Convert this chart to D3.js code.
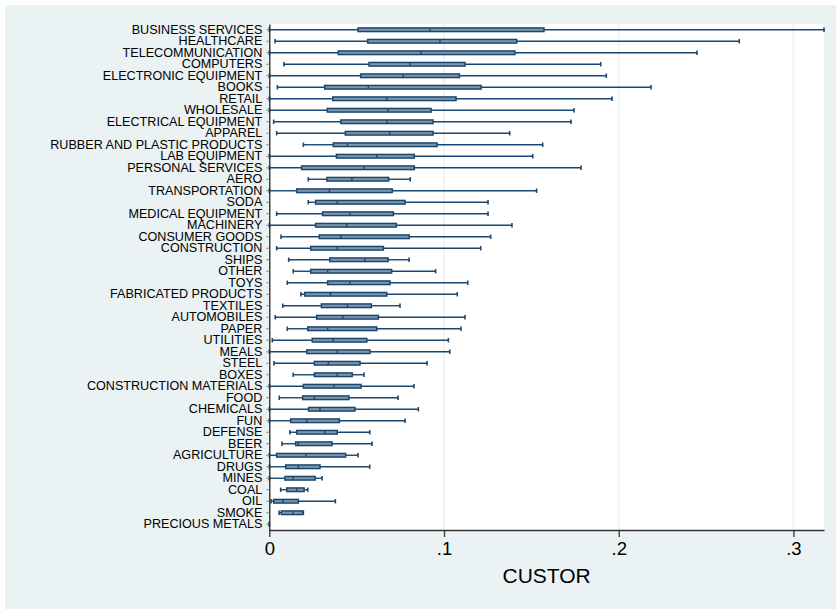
<!DOCTYPE html>
<html>
<head>
<meta charset="utf-8">
<script src="https://cdn.jsdelivr.net/npm/d3@7"></script>
<style>
  html, body { margin: 0; padding: 0; background: #ffffff; }
  svg { display: block; }
  text { font-family: "Liberation Sans", Arial, sans-serif; }
</style>
</head>
<body>
<svg id="chart" width="836" height="609"></svg>
<script>
// Industries, ordered top to bottom
const categories = [
  "BUSINESS SERVICES", "HEALTHCARE", "TELECOMMUNICATION", "COMPUTERS",
  "ELECTRONIC EQUIPMENT", "BOOKS", "RETAIL", "WHOLESALE",
  "ELECTRICAL EQUIPMENT", "APPAREL", "RUBBER AND PLASTIC PRODUCTS",
  "LAB EQUIPMENT", "PERSONAL SERVICES", "AERO", "TRANSPORTATION", "SODA",
  "MEDICAL EQUIPMENT", "MACHINERY", "CONSUMER GOODS", "CONSTRUCTION",
  "SHIPS", "OTHER", "TOYS", "FABRICATED PRODUCTS", "TEXTILES",
  "AUTOMOBILES", "PAPER", "UTILITIES", "MEALS", "STEEL", "BOXES",
  "CONSTRUCTION MATERIALS", "FOOD", "CHEMICALS", "FUN", "DEFENSE", "BEER",
  "AGRICULTURE", "DRUGS", "MINES", "COAL", "OIL", "SMOKE", "PRECIOUS METALS"
];

// Box-plot statistics of CUSTOR per industry
const lowerAdjacent = [
  0.0000, 0.0033, 0.0000, 0.0084, 0.0000, 0.0046, 0.0000, 0.0000,
  0.0025, 0.0042, 0.0195, 0.0000, 0.0000, 0.0223, 0.0000, 0.0223,
  0.0042, 0.0000, 0.0067, 0.0042, 0.0111, 0.0137, 0.0103, 0.0181,
  0.0077, 0.0034, 0.0103, 0.0017, 0.0000, 0.0027, 0.0137, 0.0000,
  0.0057, 0.0000, 0.0000, 0.0118, 0.0073, 0.0000, 0.0000, 0.0000,
  0.0065, 0.0010, 0.0056, 0.0000
];
const lowerQuartile = [
  0.0508, 0.0563, 0.0395, 0.0571, 0.0523, 0.0317, 0.0363, 0.0332,
  0.0410, 0.0435, 0.0366, 0.0384, 0.0185, 0.0330, 0.0157, 0.0265,
  0.0305, 0.0265, 0.0286, 0.0237, 0.0346, 0.0237, 0.0334, 0.0203,
  0.0298, 0.0271, 0.0220, 0.0246, 0.0214, 0.0258, 0.0258, 0.0195,
  0.0191, 0.0225, 0.0122, 0.0157, 0.0151, 0.0042, 0.0094, 0.0090,
  0.0100, 0.0025, 0.0069, 0.0000
];
const medians = [
  0.0920, 0.0977, 0.0868, 0.0805, 0.0767, 0.0567, 0.0672, 0.0678,
  0.0674, 0.0689, 0.0447, 0.0615, 0.0542, 0.0473, 0.0344, 0.0389,
  0.0462, 0.0443, 0.0410, 0.0389, 0.0546, 0.0334, 0.0462, 0.0351,
  0.0447, 0.0420, 0.0334, 0.0366, 0.0389, 0.0338, 0.0389, 0.0370,
  0.0258, 0.0290, 0.0214, 0.0317, 0.0166, 0.0210, 0.0166, 0.0137,
  0.0157, 0.0080, 0.0136, 0.0000
];
const upperQuartile = [
  0.1572, 0.1416, 0.1406, 0.1120, 0.1088, 0.1212, 0.1069, 0.0926,
  0.0937, 0.0937, 0.0960, 0.0830, 0.0830, 0.0683, 0.0704, 0.0777,
  0.0710, 0.0727, 0.0801, 0.0653, 0.0680, 0.0700, 0.0691, 0.0672,
  0.0584, 0.0624, 0.0615, 0.0558, 0.0576, 0.0519, 0.0475, 0.0525,
  0.0456, 0.0490, 0.0401, 0.0389, 0.0359, 0.0437, 0.0290, 0.0262,
  0.0199, 0.0166, 0.0191, 0.0000
];
const upperAdjacent = [
  0.3175, 0.2690, 0.2448, 0.1897, 0.1929, 0.2185, 0.1962, 0.1744,
  0.1727, 0.1376, 0.1565, 0.1508, 0.1784, 0.0807, 0.1530, 0.1252,
  0.1252, 0.1389, 0.1267, 0.1210, 0.0800, 0.0952, 0.1136, 0.1076,
  0.0748, 0.1120, 0.1097, 0.1025, 0.1033, 0.0903, 0.0542, 0.0828,
  0.0737, 0.0853, 0.0777, 0.0575, 0.0588, 0.0508, 0.0575, 0.0302,
  0.0220, 0.0378, 0.0195, 0.0000
];

// x-axis ticks
const tickValues = [0, 0.1, 0.2, 0.3];
const tickLabels = ["0", ".1", ".2", ".3"];
const axisTitle = "CUSTOR";

const rows = categories.map((name, i) => ({
  name,
  lo: lowerAdjacent[i],
  q1: lowerQuartile[i],
  med: medians[i],
  q3: upperQuartile[i],
  hi: upperAdjacent[i]
}));

const W = 836, H = 609;
const plot = { left: 269.3, right: 824, top: 24, bottom: 530 };

const NAVY = "#1a476f";
const BOX_FILL = "#7f96ad";
const REGION = "#eaf2f3";

const svg = d3.select("#chart");

// graph region and plot region
svg.append("rect").attr("x", 5).attr("y", 5).attr("width", W - 5).attr("height", H - 5)
  .attr("fill", REGION);
svg.append("rect").attr("x", plot.left).attr("y", plot.top)
  .attr("width", plot.right - plot.left).attr("height", plot.bottom - plot.top)
  .attr("fill", "#ffffff");

const x = d3.scaleLinear()
  .domain([0, d3.max(upperAdjacent)])
  .range([plot.left, plot.right]);

const y = d3.scaleBand()
  .domain(categories)
  .range([plot.top, plot.bottom])
  .paddingInner(0)
  .paddingOuter(0);

const cy = d => y(d.name) + y.bandwidth() / 2;

// vertical grid lines
svg.append("g").selectAll("line")
  .data(tickValues.filter(v => v > 0))
  .join("line")
  .attr("x1", d => x(d)).attr("x2", d => x(d))
  .attr("y1", plot.top).attr("y2", plot.bottom)
  .attr("stroke", REGION).attr("stroke-width", 1.5);

// boxes
const boxH = 3.6;
const capH = 4.4;
const g = svg.append("g");
const rowG = g.selectAll("g.row").data(rows).join("g").attr("class", "row");

rowG.append("line")
  .attr("x1", d => x(d.lo)).attr("x2", d => x(d.q1))
  .attr("y1", cy).attr("y2", cy)
  .attr("stroke", NAVY).attr("stroke-width", 1.4);
rowG.append("line")
  .attr("x1", d => x(d.q3)).attr("x2", d => x(d.hi))
  .attr("y1", cy).attr("y2", cy)
  .attr("stroke", NAVY).attr("stroke-width", 1.4);
rowG.append("line")
  .attr("x1", d => x(d.lo)).attr("x2", d => x(d.lo))
  .attr("y1", d => cy(d) - capH / 2).attr("y2", d => cy(d) + capH / 2)
  .attr("stroke", NAVY).attr("stroke-width", 1.6);
rowG.append("line")
  .attr("x1", d => x(d.hi)).attr("x2", d => x(d.hi))
  .attr("y1", d => cy(d) - capH / 2).attr("y2", d => cy(d) + capH / 2)
  .attr("stroke", NAVY).attr("stroke-width", 1.6);
rowG.append("rect")
  .attr("x", d => x(d.q1)).attr("width", d => x(d.q3) - x(d.q1))
  .attr("y", d => cy(d) - boxH / 2).attr("height", boxH)
  .attr("fill", BOX_FILL).attr("stroke", NAVY).attr("stroke-width", 1.5);
rowG.append("line")
  .attr("x1", d => x(d.med)).attr("x2", d => x(d.med))
  .attr("y1", d => cy(d) - boxH / 2).attr("y2", d => cy(d) + boxH / 2)
  .attr("stroke", NAVY).attr("stroke-width", 1.4);

// y axis (categories)
const yAxis = svg.append("g")
  .attr("transform", `translate(${plot.left},0)`)
  .call(d3.axisLeft(y).tickSize(3).tickPadding(4).tickSizeOuter(0));
yAxis.select(".domain").attr("stroke", "#222").attr("stroke-width", 1.3);
yAxis.selectAll(".tick line").attr("stroke", "#888").attr("stroke-width", 1);
yAxis.selectAll(".tick text")
  .attr("font-family", "'Liberation Sans', Arial, sans-serif")
  .attr("font-size", 12.6)
  .attr("fill", "#000");

// x axis
const xAxis = svg.append("g")
  .attr("transform", `translate(0,${plot.bottom})`)
  .call(d3.axisBottom(x)
    .tickValues(tickValues)
    .tickFormat((d, i) => tickLabels[i])
    .tickSize(7).tickPadding(5).tickSizeOuter(0));
xAxis.select(".domain").attr("stroke", "#333").attr("stroke-width", 1.3);
xAxis.selectAll(".tick line").attr("stroke", "#333").attr("stroke-width", 1.3);
xAxis.selectAll(".tick text")
  .attr("font-family", "'Liberation Sans', Arial, sans-serif")
  .attr("font-size", 18.5)
  .attr("fill", "#000");

// axis title
svg.append("text")
  .attr("x", (plot.left + plot.right) / 2)
  .attr("y", 583)
  .attr("text-anchor", "middle")
  .attr("font-size", 21)
  .attr("fill", "#000")
  .text(axisTitle);
</script>
</body>
</html>
